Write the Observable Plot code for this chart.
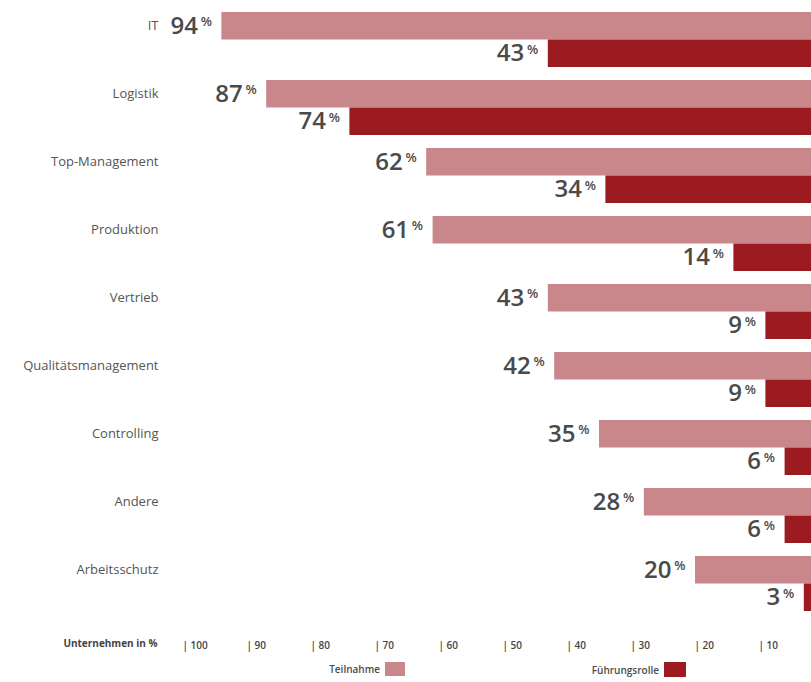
<!DOCTYPE html>
<html>
<head>
<meta charset="utf-8">
<script src="https://cdn.jsdelivr.net/npm/d3@7"></script>
<script src="https://cdn.jsdelivr.net/npm/@observablehq/plot@0.6"></script>
<style>
  html, body { margin: 0; padding: 0; background: #fff; overflow: hidden; }
  body { width: 811px; height: 682px; font-family: "Open Sans", sans-serif; }
  #chart svg { display: block; }
  #legend { position: relative; height: 22px; width: 811px; }
  .lg { position: absolute; top: 2px; display: flex; align-items: center; font-size: 10px; font-weight: 600; color: #4a4a4a; }
  .sw { display: inline-block; margin-left: 5px; }
</style>
</head>
<body>
<div id="chart"></div>
<div id="legend"></div>
<script>
const categories = ["IT", "Logistik", "Top-Management", "Produktion", "Vertrieb", "Qualitätsmanagement", "Controlling", "Andere", "Arbeitsschutz"];
const teilnahme = [94, 87, 62, 61, 43, 42, 35, 28, 20];
const fuehrungsrolle = [43, 74, 34, 14, 9, 9, 6, 6, 3];
const tickValues = [100, 90, 80, 70, 60, 50, 40, 30, 20, 10];
const axisTitle = "Unternehmen in %";
const seriesNames = ["Teilnahme", "Führungsrolle"];
const colors = ["#c9878b", "#9b1b21"];

const data = categories.map((c, i) => ({category: c, teilnahme: teilnahme[i], fuehrung: fuehrungsrolle[i]}));

const half = 27.5;
const numStyle = {fontSize: 24, fontWeight: 600, fill: "#4a4a4a", textAnchor: "end", fontFamily: "Open Sans"};
const pctStyle = {fontSize: 13, fontWeight: 600, fill: "#4a4a4a", textAnchor: "end", fontFamily: "Open Sans"};

const plot = Plot.plot({
  width: 811,
  height: 660,
  marginLeft: 170,
  marginRight: 0,
  marginTop: 0,
  marginBottom: 25,
  style: {fontFamily: "Open Sans", background: "#fff"},
  x: {domain: [0, 100], range: [823, 183]},
  y: {domain: categories, range: [12, 611], paddingInner: 13 / 68, paddingOuter: 0},
  marks: [
    Plot.barX(data, {x: "teilnahme", y: "category", fill: colors[0], insetBottom: half, clip: true}),
    Plot.barX(data, {x: "fuehrung", y: "category", fill: colors[1], insetTop: half, clip: true}),
    Plot.text(data, {x: "teilnahme", y: "category", text: d => String(d.teilnahme), dx: -24, dy: -half / 2, ...numStyle}),
    Plot.text(data, {x: "teilnahme", y: "category", text: () => "%", dx: -10, dy: -half / 2 - 4, ...pctStyle}),
    Plot.text(data, {x: "fuehrung", y: "category", text: d => String(d.fuehrung), dx: -24, dy: half / 2, ...numStyle}),
    Plot.text(data, {x: "fuehrung", y: "category", text: () => "%", dx: -10, dy: half / 2 - 4, ...pctStyle}),
    Plot.axisY({anchor: "left", tickSize: 0, tickPadding: 12, dy: -half / 2, fontSize: 13, fill: "#555", label: null}),
    Plot.axisX(tickValues, {anchor: "bottom", tickSize: 0, tickPadding: 6, textAnchor: "start", dx: -1, tickFormat: d => "| " + d, fontSize: 10, fontWeight: 600, fill: "#444", label: null}),
    Plot.text([axisTitle], {frameAnchor: "bottom-left", text: d => d, dx: -13, dy: 11, textAnchor: "end", fontSize: 10, fontWeight: 700, fill: "#444"})
  ]
});
document.getElementById("chart").appendChild(plot);

const legend = document.getElementById("legend");
const legendPos = [{right: 811 - 405, w: 20, h: 14}, {right: 811 - 686, w: 22, h: 15}];
seriesNames.forEach((name, i) => {
  const item = document.createElement("div");
  item.className = "lg";
  item.style.right = legendPos[i].right + "px";
  const t = document.createElement("span");
  t.textContent = name;
  const sw = document.createElement("span");
  sw.className = "sw";
  sw.style.width = legendPos[i].w + "px";
  sw.style.height = legendPos[i].h + "px";
  sw.style.background = colors[i];
  item.appendChild(t);
  item.appendChild(sw);
  legend.appendChild(item);
});
</script>
</body>
</html>
